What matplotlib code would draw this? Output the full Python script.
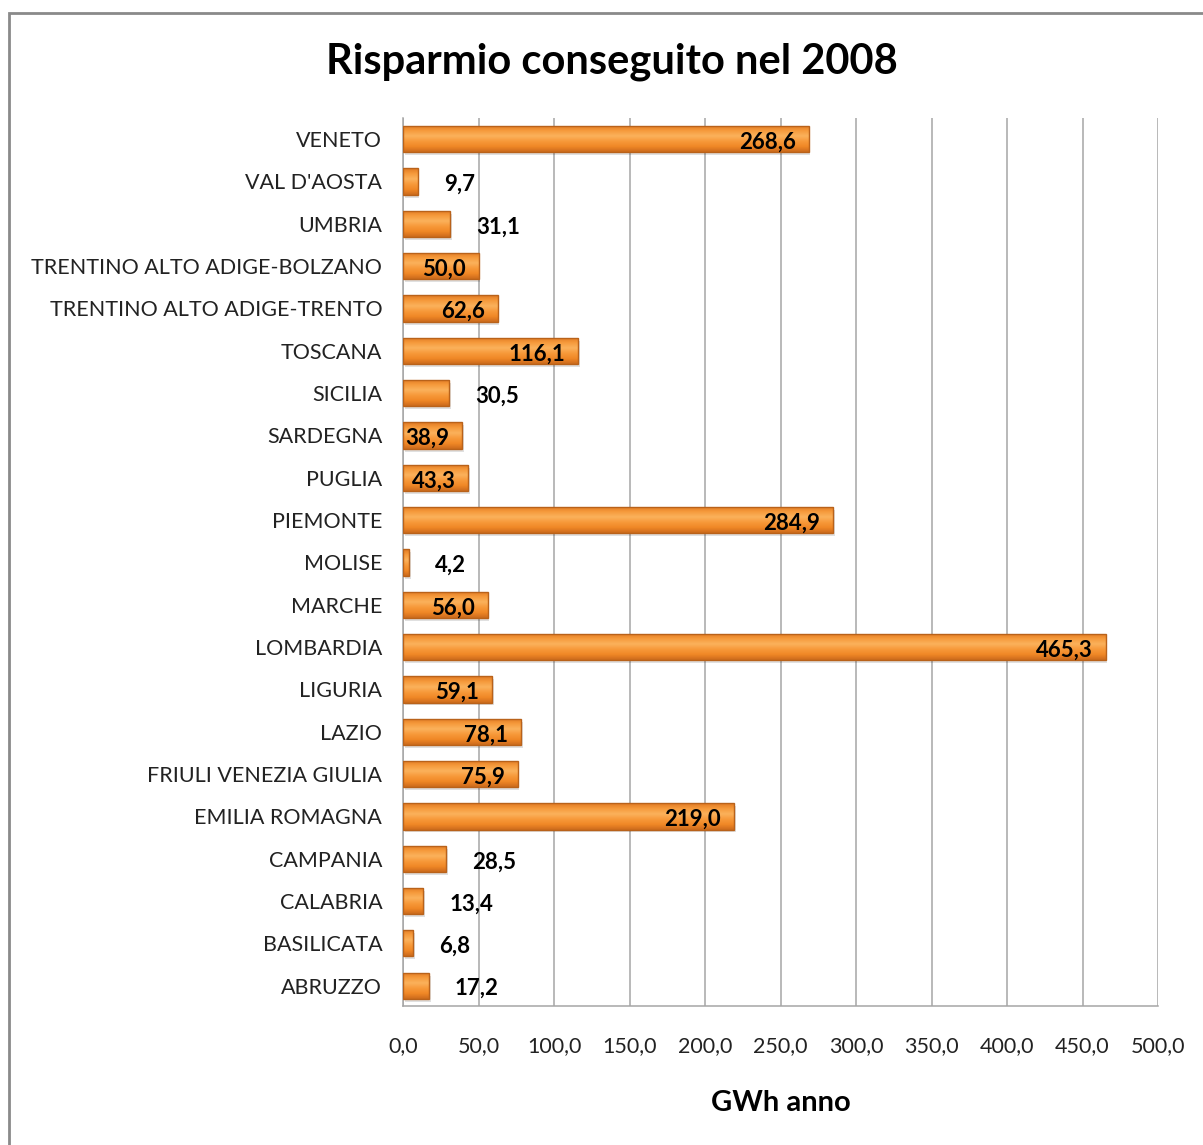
import numpy as np
import matplotlib
matplotlib.use('Agg')
import matplotlib.pyplot as plt
from matplotlib.patches import Rectangle
from matplotlib.ticker import FuncFormatter

plt.rcParams['font.family'] = ['Lato', 'DejaVu Sans']

# dati (dal basso verso l'alto)
regioni = ['ABRUZZO', 'BASILICATA', 'CALABRIA', 'CAMPANIA', 'EMILIA ROMAGNA',
           'FRIULI VENEZIA GIULIA', 'LAZIO', 'LIGURIA', 'LOMBARDIA', 'MARCHE',
           'MOLISE', 'PIEMONTE', 'PUGLIA', 'SARDEGNA', 'SICILIA', 'TOSCANA',
           'TRENTINO ALTO ADIGE-TRENTO', 'TRENTINO ALTO ADIGE-BOLZANO',
           'UMBRIA', "VAL D'AOSTA", 'VENETO']
risparmio = [17.2, 6.8, 13.4, 28.5, 219.0, 75.9, 78.1, 59.1, 465.3, 56.0,
             4.2, 284.9, 43.3, 38.9, 30.5, 116.1, 62.6, 50.0, 31.1, 9.7, 268.6]
x_ticks = [0, 50, 100, 150, 200, 250, 300, 350, 400, 450, 500]

W, H = 1203, 1145
fig = plt.figure(figsize=(W / 100, H / 100), dpi=100)
fig.patch.set_facecolor('white')

# cornice del grafico
fig.patches.append(Rectangle((9 / W, -0.05), 1.2, 1 - 13 / H + 0.05,
                             transform=fig.transFigure, fill=False,
                             edgecolor='#8a8a8a', linewidth=2))

ax = fig.add_axes([403 / W, 1 - 1006 / H, (1158 - 403) / W, (1006 - 118) / H])

y = np.arange(len(regioni))
h = 0.62
bars = ax.barh(y, risparmio, height=h, color='#F39234', edgecolor='#B9621A',
               linewidth=1.0, zorder=3)

# sfumatura verticale sulle barre
grad = np.linspace(0, 1, 64).reshape(-1, 1)
cmap = matplotlib.colors.LinearSegmentedColormap.from_list(
    'arancio', ['#CC6A1C', '#F08826', '#F7993A', '#FBB25C', '#F69A3C', '#E07A22'])
for b in bars:
    x0, y0 = b.get_x(), b.get_y()
    im = ax.imshow(grad, extent=(x0, x0 + b.get_width(), y0, y0 + b.get_height()),
                   aspect='auto', cmap=cmap, origin='lower', zorder=3.5,
                   interpolation='bicubic')
    im.set_clip_path(b)
    # ombra
    ax.add_patch(Rectangle((x0 + 1.2, y0 - 0.07), b.get_width(), b.get_height(),
                           facecolor='#000000', alpha=0.12, edgecolor='none',
                           zorder=2.5))
for b in bars:
    b.set_facecolor('none')
    b.set_zorder(4)

# etichette dei valori
for yi, v in zip(y, risparmio):
    txt = f'{v:.1f}'.replace('.', ',')
    if v < 36:
        ax.annotate(txt, (v, yi), xytext=(26, -3), textcoords='offset pixels',
                    ha='left', va='center', fontsize=16, fontweight='bold',
                    color='black', zorder=5)
    else:
        ax.annotate(txt, (v, yi), xytext=(-13, -3), textcoords='offset pixels',
                    ha='right', va='center', fontsize=16, fontweight='bold',
                    color='black', zorder=5)

ax.set_xlim(0, 500)
ax.set_ylim(-0.48, len(regioni) - 0.5)
ax.set_xticks(x_ticks)
ax.xaxis.set_major_formatter(FuncFormatter(lambda v, p: f'{v:.1f}'.replace('.', ',')))
ax.set_yticks(y)
ax.set_yticklabels(regioni)
ax.tick_params(axis='y', length=0, pad=15, labelsize=15.5, labelcolor='#222222')
ax.tick_params(axis='x', length=0, pad=22, labelsize=15.5, labelcolor='#222222')
ax.grid(axis='x', color='#a6a6a6', linewidth=1.1, zorder=0)
ax.set_axisbelow(True)
for s in ['top', 'right']:
    ax.spines[s].set_visible(False)
for s in ['left', 'bottom']:
    ax.spines[s].set_color('#a6a6a6')
    ax.spines[s].set_linewidth(1.1)

ax.set_xlabel('GWh anno', fontsize=21, fontweight='bold', labelpad=24)
fig.text(612 / W, 1 - 62 / H, 'Risparmio conseguito nel 2008', ha='center',
         va='center', fontsize=30, fontweight='bold')

fig.savefig('out.png', dpi=100)
